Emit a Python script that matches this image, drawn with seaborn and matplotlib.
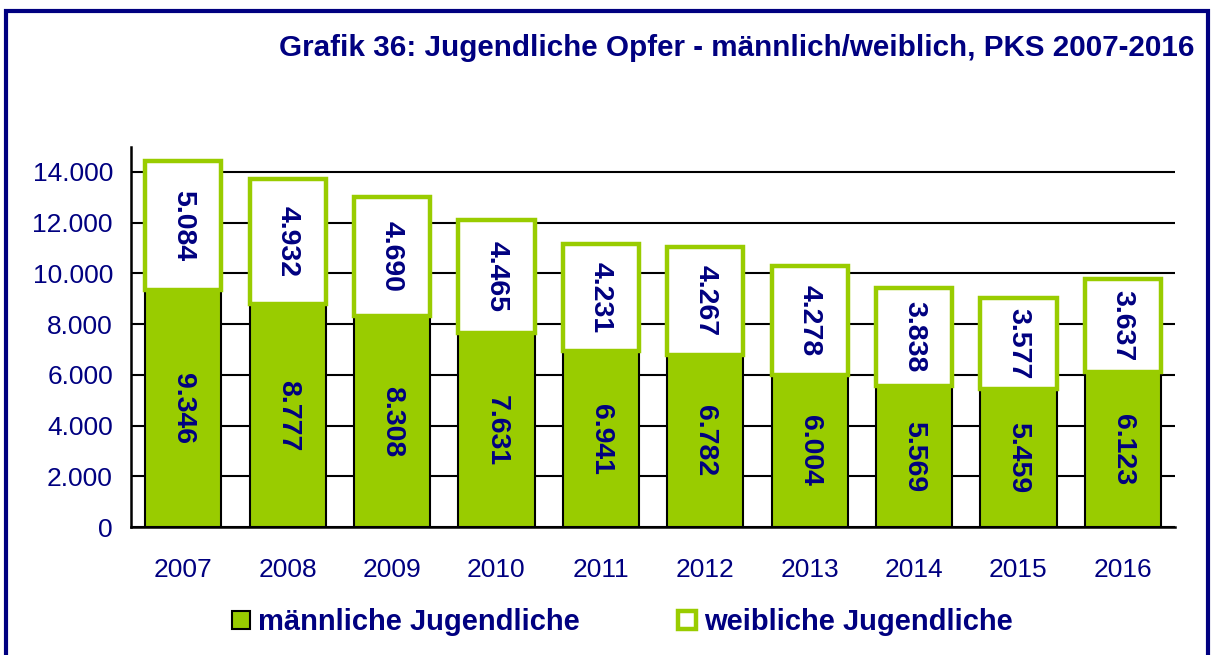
import matplotlib
matplotlib.use("Agg")
import matplotlib.pyplot as plt
from matplotlib.patches import Rectangle, Patch
from matplotlib.ticker import FuncFormatter, FixedLocator
import seaborn as sns
import pandas as pd
import numpy as np

years = ["2007", "2008", "2009", "2010", "2011", "2012", "2013", "2014", "2015", "2016"]
maennlich = [9346, 8777, 8308, 7631, 6941, 6782, 6004, 5569, 5459, 6123]
weiblich = [5084, 4932, 4690, 4465, 4231, 4267, 4278, 3838, 3577, 3637]
y_ticks = [0, 2000, 4000, 6000, 8000, 10000, 12000, 14000]

NAVY = "#000080"
GREEN = "#99CC00"

sns.set_style("white")
plt.rcParams["font.family"] = ["Liberation Sans", "DejaVu Sans"]

def de_fmt(v):
    return f"{int(round(v)):,}".replace(",", ".")

df = pd.DataFrame({"Jahr": years, "m": maennlich, "w": weiblich})

fig = plt.figure(figsize=(12.11, 6.55), dpi=100)
ax = fig.add_axes([0.1082, 0.1954, 0.8621, 0.5808])

bar_w = 0.73
sns.barplot(data=df, x="Jahr", y="m", color=GREEN, width=bar_w, saturation=1,
            edgecolor="black", linewidth=1.5, ax=ax, zorder=3)
x = np.arange(len(years))
ax.bar(x, df["w"], bottom=df["m"], width=bar_w, color="white",
       edgecolor=GREEN, linewidth=3.2, zorder=4)

for xi, m, w in zip(x, maennlich, weiblich):
    ax.text(xi, m / 2, de_fmt(m), rotation=-90, ha="center", va="center",
            color=NAVY, fontsize=20.5, fontweight="bold", zorder=5)
    ax.text(xi, m + w / 2, de_fmt(w), rotation=-90, ha="center", va="center",
            color=NAVY, fontsize=20.5, fontweight="bold", zorder=5)

ax.set_xlim(-0.5, len(years) - 0.5)
ax.set_ylim(0, 15000)
ax.yaxis.set_major_locator(FixedLocator(y_ticks))
ax.yaxis.set_major_formatter(FuncFormatter(lambda v, p: de_fmt(v)))
ax.grid(axis="y", color="black", linewidth=1.5, zorder=0)
ax.set_axisbelow(True)
ax.set_xlabel("")
ax.set_ylabel("")

for s in ["top", "right"]:
    ax.spines[s].set_visible(False)
for s in ["left", "bottom"]:
    ax.spines[s].set_color("black")
    ax.spines[s].set_linewidth(1.8)

ax.tick_params(axis="y", which="major", direction="out", length=8, width=1.5,
               color="black", labelcolor=NAVY, labelsize=19, pad=5)
ax.tick_params(axis="x", which="major", length=0, labelcolor=NAVY,
               labelsize=19, pad=22)
ax.xaxis.set_minor_locator(FixedLocator(np.arange(-0.5, len(years), 1.0)))
ax.tick_params(axis="x", which="minor", direction="out", length=8, width=1.5,
               color="black")

fig.text(0.986, 0.926, "Grafik 36: Jugendliche Opfer - männlich/weiblich, PKS 2007-2016",
         ha="right", va="center", color=NAVY, fontsize=21.3, fontweight="bold")

handles = [Patch(facecolor=GREEN, edgecolor="black", linewidth=1.5),
           Patch(facecolor="white", edgecolor=GREEN, linewidth=3.2)]
fig.legend(handles, ["männliche Jugendliche", "weibliche Jugendliche"],
           loc="center", bbox_to_anchor=(0.514, 0.05), ncol=2, frameon=False,
           prop={"size": 21, "weight": "bold"}, labelcolor=NAVY,
           handlelength=0.62, handleheight=0.62, handletextpad=0.27,
           columnspacing=3.35)

fig.patches.append(Rectangle((6 / 1211, -0.05), 1202 / 1211, 1.05 - 11 / 655,
                             transform=fig.transFigure, fill=False,
                             edgecolor=NAVY, linewidth=3))

fig.savefig("out.png", dpi=100)
